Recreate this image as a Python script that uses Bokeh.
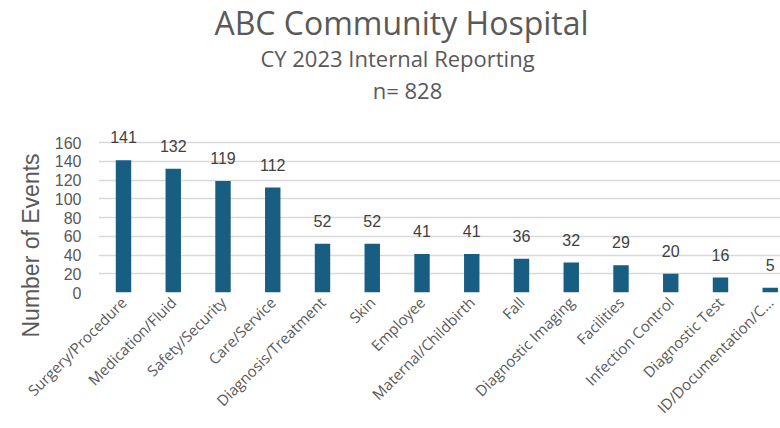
from bokeh.plotting import figure
from bokeh.models import ColumnDataSource, LabelSet, Label, FixedTicker, Range1d, Title
from bokeh.core.properties import value
from bokeh.embed import file_html
from bokeh.resources import INLINE

categories = ["Surgery/Procedure", "Medication/Fluid", "Safety/Security", "Care/Service",
              "Diagnosis/Treatment", "Skin", "Employee", "Maternal/Childbirth", "Fall",
              "Diagnostic Imaging", "Facilities", "Infection Control", "Diagnostic Test",
              "ID/Documentation/C..."]
events = [141, 132, 119, 112, 52, 52, 41, 41, 36, 32, 29, 20, 16, 5]
y_ticks = [0, 20, 40, 60, 80, 100, 120, 140, 160]
title_text = "ABC Community Hospital"
subtitle_text = "CY 2023 Internal Reporting"
n_text = "n= 828"
y_title = "Number of Events"

W, H = 780, 428
FL, FB = 98, 136          # frame left border, bottom border (px)
SP = 49.75                # px per category
PX_Y = 150 / 160          # px per event
X0 = -25 / SP
X1 = X0 + (W - FL) / SP
Y1 = (H - FB) / PX_Y

def dx(px):  # page x -> data x
    return X0 + (px - FL) / SP

def dy(py):  # page y -> data y
    return (H - FB - py) / PX_Y

idx = list(range(len(categories)))
src = ColumnDataSource(dict(x=idx, y=events, lab=[str(v) for v in events]))

p = figure(width=W, height=H, output_backend="svg", toolbar_location=None,
           x_range=Range1d(X0, X1), y_range=Range1d(0, Y1),
           min_border_left=FL, min_border_right=0, min_border_top=0, min_border_bottom=FB)
p.outline_line_color = None
p.background_fill_color = "white"
p.border_fill_color = "white"

p.vbar(x="x", top="y", width=0.31, source=src, fill_color="#185E82", line_color=None)

p.add_layout(LabelSet(x="x", y="y", text="lab", source=src, y_offset=17,
                      text_align="center", text_baseline="alphabetic",
                      text_font=value("Liberation Sans"), text_font_size=value("16px"),
                      text_color=value("#404040")))

# axes
p.xaxis.ticker = FixedTicker(ticks=idx)
p.xaxis.major_label_overrides = {i: c for i, c in zip(idx, categories)}
p.xaxis.major_label_orientation = 0.785398
p.xaxis.axis_line_color = None
p.xaxis.major_tick_line_color = None
p.xaxis.minor_tick_line_color = None
p.xaxis.major_tick_out = 0
p.xaxis.minor_tick_out = 0
p.xaxis.major_label_standoff = 7
p.xaxis.major_label_text_font = "Open Sans"
p.xaxis.major_label_text_font_size = "15px"
p.xaxis.major_label_text_color = "#595959"

p.yaxis.ticker = FixedTicker(ticks=y_ticks)
p.yaxis.axis_line_color = None
p.yaxis.major_tick_line_color = None
p.yaxis.minor_tick_line_color = None
p.yaxis.major_tick_out = 0
p.yaxis.minor_tick_out = 0
p.yaxis.major_label_standoff = 17
p.yaxis.major_label_text_font = "Liberation Sans"
p.yaxis.major_label_text_font_size = "16px"
p.yaxis.major_label_text_color = "#595959"

p.xgrid.grid_line_color = None
p.ygrid.ticker = FixedTicker(ticks=y_ticks)
p.ygrid.grid_line_color = "#D9D9D9"
p.ygrid.grid_line_width = 1.5

# titles
for txt, cx, by, fs in [(title_text, 401, 22, "32px"), (subtitle_text, 397, 57, "22px"),
                        (n_text, 407, 89, "22px")]:
    p.add_layout(Label(x=dx(cx), y=dy(by), text=txt, text_align="center",
                       text_baseline="alphabetic", text_font="Open Sans",
                       text_font_size=fs, text_color="#595959"))

p.add_layout(Title(text=y_title, align="left", offset=-45,
                   text_font="Liberation Sans", text_font_size="23px",
                   text_font_style="normal", text_color="#595959", standoff=16),
             "left")

open("out.html", "w").write(file_html(p, INLINE))
